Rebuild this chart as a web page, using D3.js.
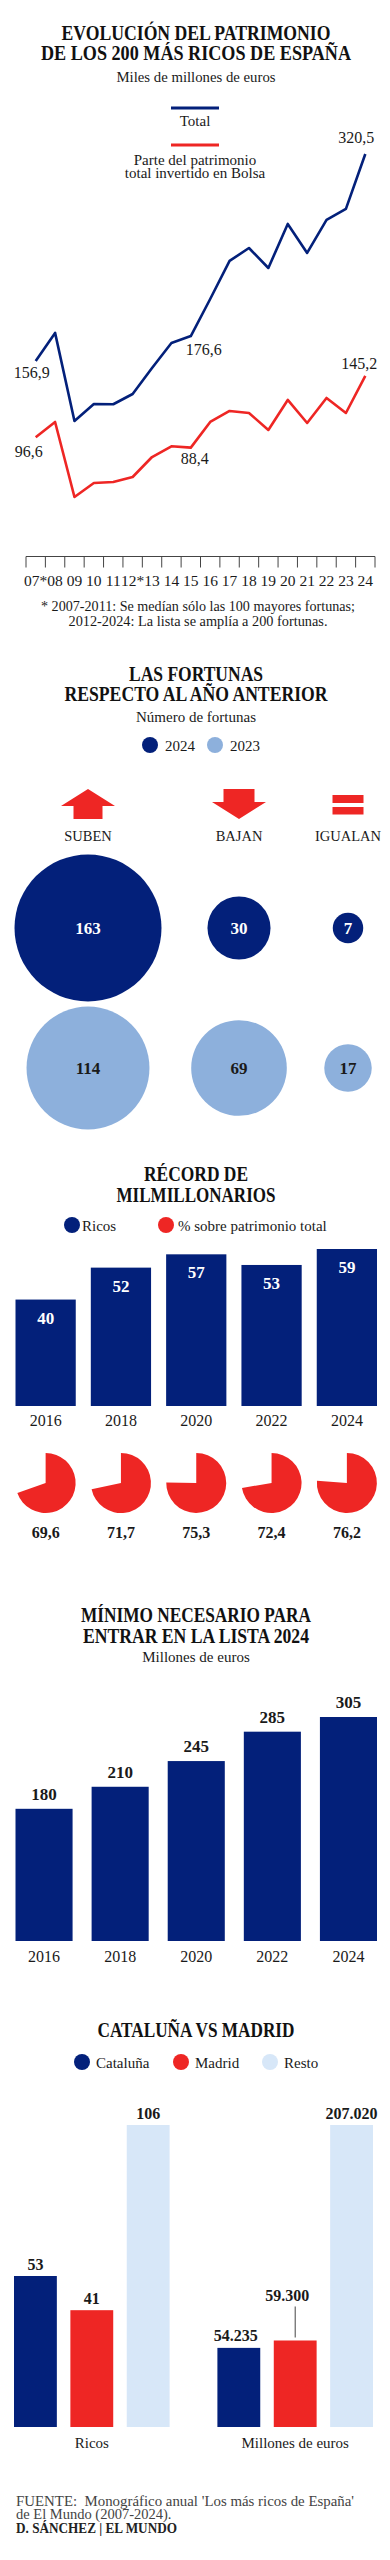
<!DOCTYPE html>
<html><head><meta charset="utf-8">
<script src="https://cdn.jsdelivr.net/npm/d3@7"></script>
<style>
body{margin:0;background:#fff}
svg{display:block}
text{font-family:"Liberation Serif","DejaVu Serif",serif;fill:#1a1a1a}
</style>
</head><body>
<svg id="c" width="390" height="2560"></svg>
<script>
// ---------- DATA ----------
const years = ["07*","08","09","10","11","12*","13","14","15","16","17","18","19","20","21","22","23","24"];
const totalValues = [156.9,179.1,109.5,122.9,122.7,130.8,151.4,171.1,176.6,205.9,236.0,246.2,230.4,265.2,242.3,268.4,277.1,320.5];
const bolsaValues = [96.6,108.7,49.4,60.5,61.3,65.2,81.0,89.5,88.4,108.7,117.4,115.8,102.4,126.1,107.9,127.7,115.8,145.2];

const moveCategories = ["SUBEN","BAJAN","IGUALAN"];
const moves2024 = [163,30,7];
const moves2023 = [114,69,17];

const recordYears = ["2016","2018","2020","2022","2024"];
const ricosCount = [40,52,57,53,59];
const ricosShare = [69.6,71.7,75.3,72.4,76.2];

const minYears = ["2016","2018","2020","2022","2024"];
const minValues = [180,210,245,285,305];

const regionGroups = ["Ricos","Millones de euros"];
const regionSeries = ["Cataluña","Madrid","Resto"];
const regionRicos = [53,41,106];
const regionMillones = [54235,59300,207020];

// ---------- STYLE ----------
const NAVY = "#03207a", RED = "#ee2624", LIGHT = "#8db0dc", PALE = "#d7e7f8";
const loc = d3.formatLocale({decimal:",", thousands:".", grouping:[3], currency:["","€"]});
const f1 = loc.format(".1f"), fInt = loc.format(",d");

const svg = d3.select("#c");
svg.append("rect").attr("width",390).attr("height",2560).attr("fill","#fff");

function text(x, y, s, o={}) {
  const t = svg.append("text").attr("x",x).attr("y",y).text(s)
    .attr("text-anchor", o.anchor || "middle")
    .attr("font-size", o.size || 14)
    .attr("font-weight", o.weight || "normal")
    .style("fill", o.fill || "#1a1a1a");
  if (o.width) t.attr("textLength", o.width).attr("lengthAdjust","spacingAndGlyphs");
  if (o.pre) t.style("white-space","pre");
  return t;
}
function title(lines) {
  lines.forEach(l => text(196, l[1], l[0], {size:20.5, weight:"bold", width:l[2], fill:"#111"}));
}

// ---------- SECTION 1: line chart ----------
title([["EVOLUCIÓN DEL PATRIMONIO",40,269],["DE LOS 200 MÁS RICOS DE ESPAÑA",60,310]]);
text(196, 82, "Miles de millones de euros", {size:15, width:159});

svg.append("line").attr("x1",171).attr("x2",219).attr("y1",108).attr("y2",108).attr("stroke",NAVY).attr("stroke-width",3);
text(195, 126, "Total", {size:15});
svg.append("line").attr("x1",171).attr("x2",219).attr("y1",145).attr("y2",145).attr("stroke",RED).attr("stroke-width",3);
text(195, 165, "Parte del patrimonio", {size:15});
text(195, 178, "total invertido en Bolsa", {size:15});

const xL = d3.scaleBand().domain(years).range([26,375]).padding(0);
const yL = d3.scaleLinear().domain([0,320.5]).range([559.5,154]);
const cx = d => xL(d) + xL.bandwidth()/2;
const lineGen = d3.line().x((d,i)=>cx(years[i])).y(d=>yL(d));

svg.append("path").datum(bolsaValues).attr("d",lineGen).attr("fill","none").attr("stroke",RED).attr("stroke-width",2.6).attr("stroke-linejoin","round");
svg.append("path").datum(totalValues).attr("d",lineGen).attr("fill","none").attr("stroke",NAVY).attr("stroke-width",2.6).attr("stroke-linejoin","round");

const annots = [
  {s:totalValues, i:0, dx:-4, dy:17},
  {s:totalValues, i:8, dx:13, dy:19},
  {s:totalValues, i:17, dx:-9, dy:-11},
  {s:bolsaValues, i:0, dx:-7, dy:20},
  {s:bolsaValues, i:8, dx:4, dy:16},
  {s:bolsaValues, i:17, dx:-6, dy:-7}
];
annots.forEach(a => text(cx(years[a.i])+a.dx, yL(a.s[a.i])+a.dy, f1(a.s[a.i]), {size:16}));

const axY = yL(0) - 3;
const tickPos = years.map(d=>xL(d)).concat([xL.range()[1]]);
svg.append("line").attr("x1",tickPos[0]).attr("x2",tickPos[tickPos.length-1]).attr("y1",axY).attr("y2",axY).attr("stroke","#444").attr("stroke-width",1);
svg.selectAll(".tk").data(tickPos).enter().append("line")
  .attr("x1",d=>d).attr("x2",d=>d).attr("y1",axY).attr("y2",axY+11).attr("stroke","#444").attr("stroke-width",1);
years.forEach(y => text(cx(y), 586, y, {size:15.5}));
text(198, 611, "* 2007-2011: Se medían sólo las 100 mayores fortunas;", {size:14, width:314});
text(198, 626, "2012-2024: La lista se amplía a 200 fortunas.", {size:14, width:259});

// ---------- SECTION 2: bubbles ----------
title([["LAS FORTUNAS",680.5,134],["RESPECTO AL AÑO ANTERIOR",700.5,263]]);
text(196, 722, "Número de fortunas", {size:15});
svg.append("circle").attr("cx",150).attr("cy",745).attr("r",8).attr("fill",NAVY);
text(165, 750.5, "2024", {size:15, anchor:"start"});
svg.append("circle").attr("cx",215).attr("cy",745).attr("r",8).attr("fill",LIGHT);
text(230, 750.5, "2023", {size:15, anchor:"start"});

const xM = d3.scaleOrdinal().domain(moveCategories).range([88,239,348]);
// icons
(function(){
  const up = d3.path(); const c = xM("SUBEN");
  up.moveTo(c,789); up.lineTo(c+27,806); up.lineTo(c+14.5,806); up.lineTo(c+14.5,819);
  up.lineTo(c-14.5,819); up.lineTo(c-14.5,806); up.lineTo(c-27,806); up.closePath();
  svg.append("path").attr("d",up.toString()).attr("fill",RED);
  const dn = d3.path(); const b = xM("BAJAN");
  dn.moveTo(b-15.5,789); dn.lineTo(b+15.5,789); dn.lineTo(b+15.5,802); dn.lineTo(b+27,802);
  dn.lineTo(b,819); dn.lineTo(b-27,802); dn.lineTo(b-15.5,802); dn.closePath();
  svg.append("path").attr("d",dn.toString()).attr("fill",RED);
  const e = xM("IGUALAN");
  svg.append("rect").attr("x",e-15.5).attr("y",795).attr("width",31).attr("height",8).attr("fill",RED);
  svg.append("rect").attr("x",e-15.5).attr("y",807).attr("width",31).attr("height",7.5).attr("fill",RED);
})();
moveCategories.forEach(c => text(xM(c), 841, c, {size:14.5}));

const rM = d3.scaleSqrt().domain([0,163]).range([0,73.5]);
moveCategories.forEach((c,i) => {
  svg.append("circle").attr("cx",xM(c)).attr("cy",928).attr("r",rM(moves2024[i])).attr("fill",NAVY);
  text(xM(c), 934, moves2024[i], {size:17, weight:"bold", fill:"#fff"});
  svg.append("circle").attr("cx",xM(c)).attr("cy",1068).attr("r",rM(moves2023[i])).attr("fill",LIGHT);
  text(xM(c), 1074, moves2023[i], {size:17, weight:"bold", fill:"#1a1a1a"});
});

// ---------- SECTION 3: record ----------
title([["RÉCORD DE",1180.5,104],["MILMILLONARIOS",1201.5,159]]);
svg.append("circle").attr("cx",72).attr("cy",1225).attr("r",8).attr("fill",NAVY);
text(82, 1230.5, "Ricos", {size:15, anchor:"start"});
svg.append("circle").attr("cx",166).attr("cy",1225).attr("r",8).attr("fill",RED);
text(178, 1230.5, "% sobre patrimonio total", {size:15, anchor:"start"});

const xR = d3.scaleBand().domain(recordYears).range([15.5,377]).paddingInner(0.2);
const yR = d3.scaleLinear().domain([0,59]).range([1406,1249]);
recordYears.forEach((y,i) => {
  svg.append("rect").attr("x",xR(y)).attr("y",yR(ricosCount[i])).attr("width",xR.bandwidth()).attr("height",yR(0)-yR(ricosCount[i])).attr("fill",NAVY);
  text(xR(y)+xR.bandwidth()/2, yR(ricosCount[i])+24, ricosCount[i], {size:17, weight:"bold", fill:"#fff"});
  text(xR(y)+xR.bandwidth()/2, 1425.5, y, {size:16});
});
const pie = d3.pie().sort(null);
const arc = d3.arc().innerRadius(0).outerRadius(30);
recordYears.forEach((y,i) => {
  const arcs = pie([ricosShare[i], 100-ricosShare[i]]);
  svg.append("path").attr("d",arc(arcs[0])).attr("fill",RED)
    .attr("transform",`translate(${xR(y)+xR.bandwidth()/2},1483)`);
  text(xR(y)+xR.bandwidth()/2, 1537.5, f1(ricosShare[i]), {size:16, weight:"bold"});
});

// ---------- SECTION 4: minimum ----------
title([["MÍNIMO NECESARIO PARA",1621.5,230],["ENTRAR EN LA LISTA 2024",1642.5,226]]);
text(196, 1662, "Millones de euros", {size:15});
const xN = d3.scaleBand().domain(minYears).range([15.5,377]).paddingInner(0.25);
const yN = d3.scaleLinear().domain([0,305]).range([1941,1717]);
minYears.forEach((y,i) => {
  svg.append("rect").attr("x",xN(y)).attr("y",yN(minValues[i])).attr("width",xN.bandwidth()).attr("height",yN(0)-yN(minValues[i])).attr("fill",NAVY);
  text(xN(y)+xN.bandwidth()/2, yN(minValues[i])-9, minValues[i], {size:17, weight:"bold"});
  text(xN(y)+xN.bandwidth()/2, 1961.5, y, {size:16});
});

// ---------- SECTION 5: Cataluña vs Madrid ----------
title([["CATALUÑA VS MADRID",2036.5,197]]);
const colR = d3.scaleOrdinal().domain(regionSeries).range([NAVY,RED,PALE]);
const legX = [82,181,270];
regionSeries.forEach((s,i) => {
  svg.append("circle").attr("cx",legX[i]).attr("cy",2062).attr("r",8).attr("fill",colR(s));
  text(legX[i]+14, 2067.5, s, {size:15, anchor:"start"});
});
const x0 = d3.scaleBand().domain(regionGroups).range([14,373]).paddingInner(0.235);
const x1 = d3.scaleBand().domain(regionSeries).range([0,x0.bandwidth()]).paddingInner(0.24);
const groupData = {"Ricos":regionRicos, "Millones de euros":regionMillones};
regionGroups.forEach(g => {
  const vals = groupData[g];
  const yG = d3.scaleLinear().domain([0,d3.max(vals)]).range([2427,2125]);
  regionSeries.forEach((s,i) => {
    const bx = x0(g)+x1(s);
    svg.append("rect").attr("x",bx).attr("y",yG(vals[i])).attr("width",x1.bandwidth()).attr("height",yG(0)-yG(vals[i])).attr("fill",colR(s));
    const lab = vals[i] >= 1000 ? fInt(vals[i]) : vals[i];
    const mid = bx + x1.bandwidth()/2;
    if (g === "Millones de euros" && s === "Madrid") {
      svg.append("line").attr("x1",mid).attr("x2",mid).attr("y1",yG(vals[i])-3).attr("y2",yG(vals[i])-34).attr("stroke","#444").attr("stroke-width",1);
      text(mid-8, yG(vals[i])-39.5, lab, {size:16, weight:"bold"});
    } else if (g === "Millones de euros" && s === "Cataluña") {
      text(mid-3, yG(vals[i])-6.5, lab, {size:16, weight:"bold"});
    } else {
      text(mid, yG(vals[i])-6.5, lab, {size:16, weight:"bold"});
    }
  });
  text(x0(g)+x0.bandwidth()/2, 2447.5, g, {size:15});
});

// ---------- FOOTER ----------
text(16, 2506, "FUENTE:  Monográfico anual 'Los más ricos de España'", {size:14.5, anchor:"start", pre:true, fill:"#444", width:338});
text(16, 2519, "de El Mundo (2007-2024).", {size:14.5, anchor:"start", fill:"#444"});
text(16, 2532.5, "D. SÁNCHEZ | EL MUNDO", {size:14, anchor:"start", weight:"bold", fill:"#222", width:161});
</script>
</body></html>
